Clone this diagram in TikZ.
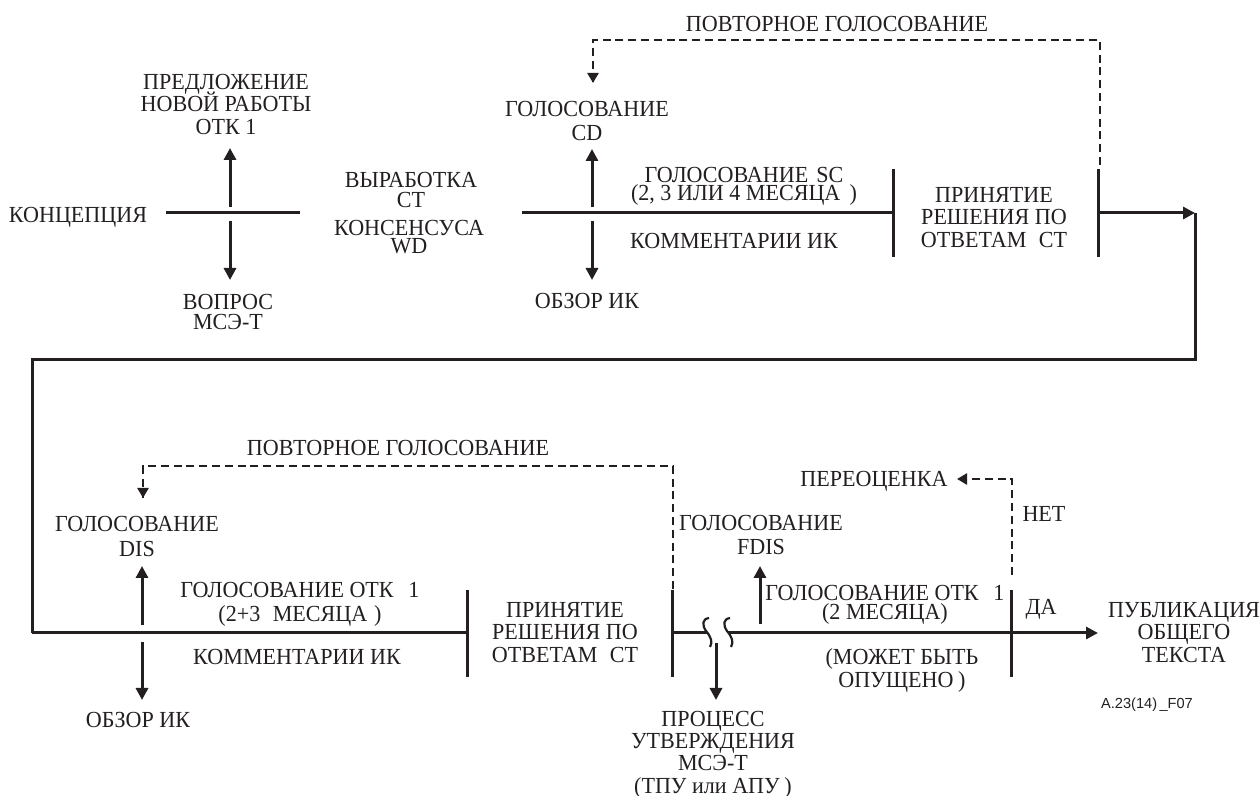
\documentclass[tikz,border=0pt]{standalone}
\usepackage{fontspec}
\setmainfont{Liberation Serif}[FakeStretch=0.96]
\newfontfamily\tagfont{Liberation Sans}
\usetikzlibrary{arrows.meta}
\definecolor{ink}{HTML}{231F20}
\lineskiplimit=-10pt
\newcommand\lblfont[1]{\fontsize{11.5pt}{#1pt}\selectfont}
\tikzset{
  lbl/.style={font=\lblfont{#1}, align=center, inner sep=0pt, text=ink},
  lbl/.default=11.25,
  flow/.style={line width=1.5pt, draw=ink},
  back/.style={line width=1.3pt, draw=ink, dash pattern=on 4pt off 2.4pt},
  tip/.style={-{Triangle[length=6pt,width=6pt]}},
  dtip/.style={-{Triangle[length=5pt,width=5.5pt]}},
  brk/.style={line width=1.1pt, draw=ink},
}
\begin{document}
\begin{tikzpicture}[x=0.5pt,y=-0.5pt]
\useasboundingbox (0,0) rectangle (1260,796);

% ---------- upper stage ----------
\node[lbl] (concept) at (78,217) {КОНЦЕПЦИЯ};
\node[lbl] (nwp) at (226,104.5) {ПРЕДЛОЖЕНИЕ\\НОВОЙ РАБОТЫ\\ОТК 1};
\node[lbl=10] (question) at (228,312) {ВОПРОС\\МСЭ-Т};
\node[lbl=10] (wd1) at (411,190) {ВЫРАБОТКА\\СТ};
\node[lbl=9] (wd2) at (409,237) {КОНСЕНСУСА\\WD};
\node[lbl=12] (cdvote) at (587,121) {ГОЛОСОВАНИЕ\\CD};
\node[lbl] (ikrev1) at (587,301) {ОБЗОР ИК};
\node[lbl=9] (scvote) at (744,186) {ГОЛОСОВАНИЕ\hspace{0.35em}SC\\(2, 3 ИЛИ 4 МЕСЯЦА\hspace{0.4em})};
\node[lbl] (ikcom1) at (734,241) {КОММЕНТАРИИ ИК};
\node[lbl] (revote1) at (837,24) {ПОВТОРНОЕ ГОЛОСОВАНИЕ};
\node[lbl] (decide1) at (994,217.5) {ПРИНЯТИЕ\\РЕШЕНИЯ ПО\\ОТВЕТАМ\hspace{0.3em} СТ};

% concept line and its branches
\coordinate (u0) at (166,213);
\coordinate (u1) at (300,213);
\draw[flow] (u0) -- (u1);
\coordinate (u1up) at (230,207);   \coordinate (u1upt) at (230,148);
\coordinate (u1dn) at (230,221);   \coordinate (u1dnt) at (230,280);
\draw[flow,tip] (u1up) -- (u1upt);
\draw[flow,tip] (u1dn) -- (u1dnt);

% committee stage line
\coordinate (u2) at (522,213);
\coordinate (u3) at (893,213);
\draw[flow] (u2) -- (u3);
\coordinate (u2up) at (592,207);   \coordinate (u2upt) at (592,149);
\coordinate (u2dn) at (592,221);   \coordinate (u2dnt) at (592,280);
\draw[flow,tip] (u2up) -- (u2upt);
\draw[flow,tip] (u2dn) -- (u2dnt);

% decision bars
\coordinate (b1t) at (893,169);   \coordinate (b1b) at (893,257);
\coordinate (b2t) at (1098,169);  \coordinate (b2b) at (1098,257);
\draw[flow] (b1t) -- (b1b);
\draw[flow] (b2t) -- (b2b);

% re-ballot loop
\coordinate (r1a) at (1100,165);
\coordinate (r1b) at (1100,40);
\coordinate (r1c) at (593,40);
\coordinate (r1d) at (593,83);
\draw[back] (r1a) -- (r1b) -- (r1c) -- (r1d);
\draw[back,solid,dtip] (593,76) -- (r1d);

% transfer to lower stage
\coordinate (u4) at (1098,213);
\coordinate (corner1) at (1195,213);
\coordinate (corner2) at (1195,360);
\coordinate (corner3) at (32,360);
\coordinate (corner4) at (32,633);
\draw[flow,tip] (u4) -- (corner1);
\draw[flow] (corner1) -- (corner2) -- (corner3) -- (corner4);

% ---------- lower stage ----------
\node[lbl] (revote2) at (398,448) {ПОВТОРНОЕ ГОЛОСОВАНИЕ};
\node[lbl=12.5] (disvote) at (137,536.5) {ГОЛОСОВАНИЕ\\DIS};
\node[lbl] (ikrev2) at (138,720) {ОБЗОР ИК};
\node[lbl=12] (jtcvote1) at (300,604) {ГОЛОСОВАНИЕ ОТК\hspace{0.4em} 1\\(2+3\hspace{0.3em} МЕСЯЦА\hspace{0.3em})};
\node[lbl] (ikcom2) at (297,657) {КОММЕНТАРИИ ИК};
\node[lbl] (decide2) at (565,632.5) {ПРИНЯТИЕ\\РЕШЕНИЯ ПО\\ОТВЕТАМ\hspace{0.3em} СТ};
\node[lbl=12] (fdisvote) at (761,535) {ГОЛОСОВАНИЕ\\FDIS};
\node[lbl=9.5] (jtcvote2) at (885,604.5) {ГОЛОСОВАНИЕ ОТК\hspace{0.4em} 1\\(2 МЕСЯЦА)};
\node[lbl=11.5] (omit) at (902,670.5) {(МОЖЕТ БЫТЬ\\ОПУЩЕНО\hspace{0.2em})};
\node[lbl=11.2] (approval) at (713,754.5) {ПРОЦЕСС\\УТВЕРЖДЕНИЯ\\МСЭ-Т\\(ТПУ или АПУ\hspace{0.2em})};
\node[lbl] (reassess) at (874,481) {ПЕРЕОЦЕНКА};
\node[lbl] (no) at (1044,514) {НЕТ};
\node[lbl] (yes) at (1041,609) {ДА};
\node[lbl] (publish) at (1184,632.5) {ПУБЛИКАЦИЯ\\ОБЩЕГО\\ТЕКСТА};
\node[font=\tagfont\fontsize{7.3pt}{8pt}\selectfont, inner sep=0pt, text=ink] (figid) at (1147,705) {A.23(14)\,\_F07};

% main line: enquiry stage, then from the decision bar to the break
\coordinate (b3m) at (467,633);
\coordinate (b4m) at (672,633);
\coordinate (brkL) at (707,633);
\coordinate (brkR) at (728,633);
\draw[flow] (corner4) -- (b3m);
\draw[flow] (b4m) -- (brkL);
\coordinate (l1up) at (142,625);   \coordinate (l1upt) at (142,566);
\coordinate (l1dn) at (142,642);   \coordinate (l1dnt) at (142,700);
\draw[flow,tip] (l1up) -- (l1upt);
\draw[flow,tip] (l1dn) -- (l1dnt);

% decision bars
\coordinate (b3t) at (467,590);   \coordinate (b3b) at (467,677);
\coordinate (b4t) at (672,590);   \coordinate (b4b) at (672,677);
\coordinate (b5t) at (1011,590);  \coordinate (b5b) at (1011,677);
\draw[flow] (b3t) -- (b3b);
\draw[flow] (b4t) -- (b4b);
\draw[flow] (b5t) -- (b5b);

% break marks
\draw[brk] (709,618) .. controls (702,619) and (702,625) .. (706,631) .. controls (711,637) and (713,642) .. (710,647);
\draw[brk] (730,618) .. controls (723,619) and (723,625) .. (727,631) .. controls (732,637) and (734,642) .. (731,647);

% approval branch and final stage
\coordinate (l2dn) at (716,643);   \coordinate (l2dnt) at (716,700);
\draw[flow,tip] (l2dn) -- (l2dnt);
\coordinate (l3up) at (760,624);   \coordinate (l3upt) at (760,566);
\draw[flow,tip] (l3up) -- (l3upt);
\coordinate (endtip) at (1098,633);
\draw[flow,tip] (brkR) -- (endtip);

% re-ballot loop (lower)
\coordinate (r2a) at (673,589);
\coordinate (r2b) at (673,466);
\coordinate (r2c) at (143,466);
\coordinate (r2d) at (143,498);
\draw[back] (r2a) -- (r2b) -- (r2c) -- (r2d);
\draw[back,solid,dtip] (143,491) -- (r2d);

% reassessment branch
\coordinate (r3a) at (1012,575);
\coordinate (r3b) at (1012,479);
\coordinate (r3c) at (957,479);
\draw[back] (r3a) -- (r3b) -- (r3c);
\draw[back,solid,dtip] (964,479) -- (r3c);
\end{tikzpicture}
\end{document}
